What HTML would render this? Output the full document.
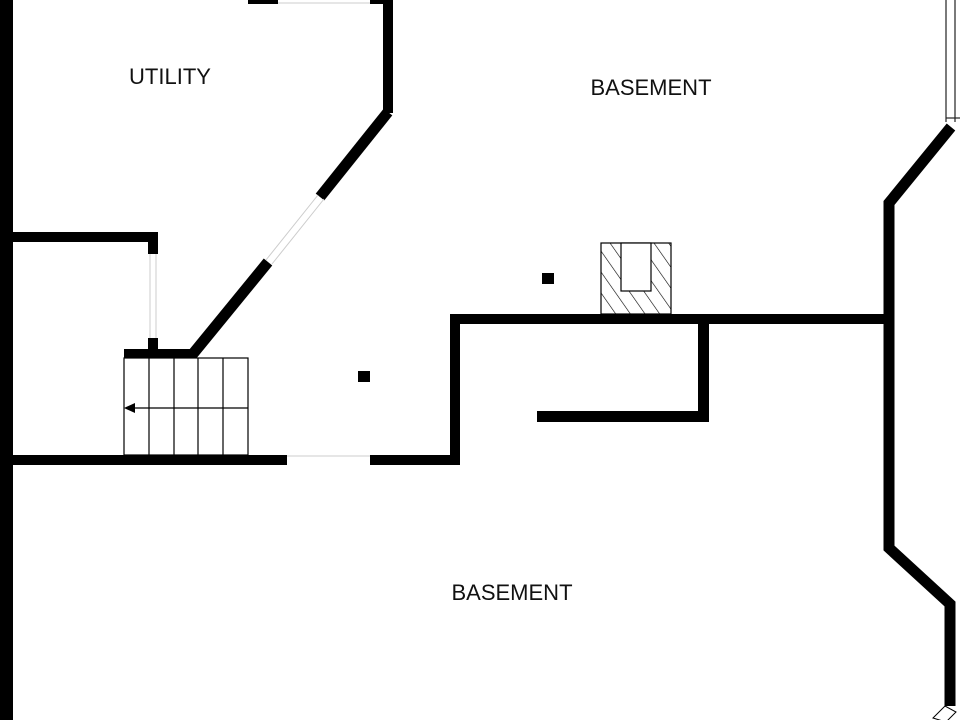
<!DOCTYPE html>
<html><head><meta charset="utf-8"><style>
html,body{margin:0;padding:0;background:#fff;width:960px;height:720px;overflow:hidden}
svg{display:block}
text{font-family:"Liberation Sans",sans-serif;font-size:22px;fill:#111}
</style></head><body>
<svg width="960" height="720" viewBox="0 0 960 720" xmlns="http://www.w3.org/2000/svg">
<defs>
<pattern id="h" patternUnits="userSpaceOnUse" width="12" height="12" patternTransform="rotate(-35)">
<line x1="0" y1="0" x2="0" y2="12" stroke="#000" stroke-width="1.2"/>
</pattern>
</defs>
<g fill="#000">
<rect x="0" y="0" width="13" height="720"/>
<rect x="248" y="0" width="30" height="4"/>
<rect x="370" y="0" width="23" height="4"/>
<rect x="383" y="0" width="10" height="113"/>
<rect x="13" y="232" width="145" height="10"/>
<rect x="148" y="232" width="10" height="22"/>
<rect x="148" y="338" width="10" height="16"/>
<rect x="124" y="349" width="72" height="9"/>
<rect x="0" y="455" width="287" height="10"/>
<rect x="370" y="455" width="90" height="10"/>
<rect x="450" y="314" width="10" height="151"/>
<rect x="450" y="314" width="440" height="10"/>
<rect x="698" y="314" width="11" height="108"/>
<rect x="537" y="411" width="172" height="11"/>
<rect x="542" y="273" width="12" height="11"/>
<rect x="358" y="371" width="12" height="11"/>
</g>
<g stroke="#000" stroke-width="11" fill="none" stroke-linecap="butt" stroke-linejoin="miter">
<line x1="388" y1="112" x2="320" y2="197"/>
<line x1="268" y1="262" x2="192" y2="355"/>
<polyline points="951,127 889,203 889,548 950,604 950,706"/>
</g>
<g stroke="#ccc" stroke-width="1" fill="none">
<line x1="278" y1="3" x2="370" y2="3"/>
<line x1="287" y1="456" x2="370" y2="456"/>
<line x1="150" y1="254" x2="150" y2="338"/>
<line x1="156" y1="254" x2="156" y2="338"/>
<line x1="318" y1="195" x2="266" y2="260"/>
<line x1="324" y1="199" x2="272" y2="264"/>
</g>
<g stroke="#222" stroke-width="1.2" fill="none">
<line x1="946" y1="0" x2="946" y2="122"/>
<line x1="955" y1="0" x2="955" y2="122"/>
<line x1="946" y1="118" x2="960" y2="118"/>
</g>
<g stroke="#000" stroke-width="1.2" fill="none">
<rect x="124" y="358" width="124" height="97"/>
<line x1="149" y1="358" x2="149" y2="455"/>
<line x1="174" y1="358" x2="174" y2="455"/>
<line x1="198" y1="358" x2="198" y2="455"/>
<line x1="223" y1="358" x2="223" y2="455"/>
<line x1="130" y1="408" x2="248" y2="408"/>
</g>
<polygon points="124,408 135,403 135,413" fill="#000"/>
<rect x="601" y="243" width="70" height="71" fill="url(#h)" stroke="#000" stroke-width="1.2"/>
<rect x="621" y="243" width="30" height="48" fill="#fff" stroke="#000" stroke-width="1.2"/>
<g stroke="#000" stroke-width="1" fill="#fff">
<polygon points="933,718 945,706 956,712 946,722"/>
</g>
<text x="170" y="84" text-anchor="middle">UTILITY</text>
<text x="651" y="95" text-anchor="middle">BASEMENT</text>
<text x="512" y="600" text-anchor="middle">BASEMENT</text>
</svg>
</body></html>
